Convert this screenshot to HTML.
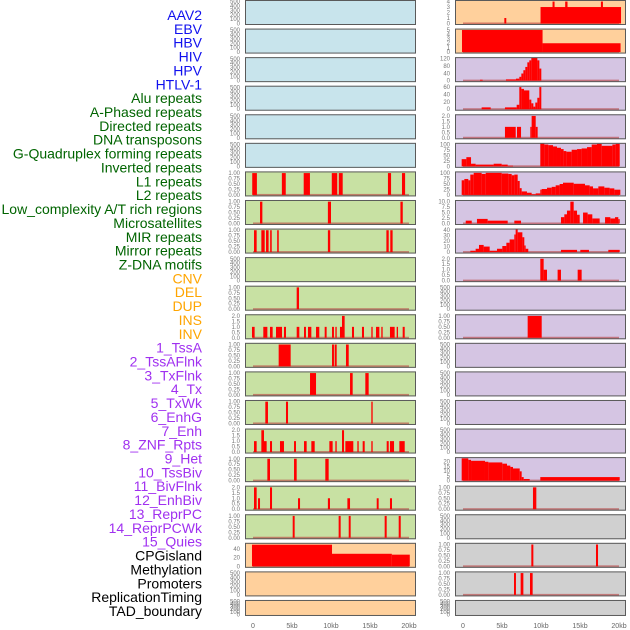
<!DOCTYPE html>
<html><head><meta charset="utf-8"><style>
html,body{margin:0;padding:0;background:#fff;}
svg{display:block;font-family:"Liberation Sans",sans-serif;}
</style></head><body>
<svg id="chart" width="630" height="630" viewBox="0 0 630 630" xmlns="http://www.w3.org/2000/svg"></svg>
<script>
const labels = ["AAV2","EBV","HBV","HIV","HPV","HTLV-1","Alu repeats","A-Phased repeats","Directed repeats","DNA transposons","G-Quadruplex forming repeats","Inverted repeats","L1 repeats","L2 repeats","Low_complexity A/T rich regions","Microsatellites","MIR repeats","Mirror repeats","Z-DNA motifs","CNV","DEL","DUP","INS","INV","1_TssA","2_TssAFlnk","3_TxFlnk","4_Tx","5_TxWk","6_EnhG","7_Enh","8_ZNF_Rpts","9_Het","10_TssBiv","11_BivFlnk","12_EnhBiv","13_ReprPC","14_ReprPCWk","15_Quies","CPGisland","Methylation","Promoters","ReplicationTiming","TAD_boundary"];
const groupOf = ["v","v","v","v","v","v","r","r","r","r","r","r","r","r","r","r","r","r","r","s","s","s","s","s","c","c","c","c","c","c","c","c","c","c","c","c","c","c","c","o","o","o","o","o"];
const labelColors = {v:"#1010ee",r:"#006400",s:"#ffa500",c:"#a030f0",o:"#000000"};
const bgColors = {v:"#c8e4ec",r:"#c8e1a3",s:"#ffd09c",c:"#d5c5e3",o:"#d0d0d0"};
const xTickValues = [0,5,10,15,20];
const xTickLabels = ["0","5kb","10kb","15kb","20kb"];

// segments: [startKb, endKb, value]
const segAlu = [[-0.1,0.5,1],[3.7,4.2,1],[6.5,7.3,1],[10.1,10.8,1],[11.0,11.5,1],[17.3,17.7,1],[19.1,19.5,1]];
const segAPhased = [[0.9,1.2,1],[9.6,10.0,1],[18.9,19.2,1]];
const segDirected = [[0.13,0.47,1],[1.07,1.5,1],[1.67,2.0,1],[2.2,2.4,1],[3.1,3.3,1],[9.6,9.9,1],[17.1,17.4,1],[17.6,17.9,1]];
const segGQuad = [[5.6,5.9,1]];
const segInverted = [[-0.13,0.21,1],[1.32,1.84,1],[2.18,2.52,1],[2.95,3.72,1],[3.97,4.23,1],[5.6,5.94,1],[6.54,6.79,1],[7.05,7.48,1],[8.08,8.5,1],[9.19,9.44,1],[10.13,10.38,1],[10.56,10.73,1],[11.15,11.41,1],[11.41,11.75,2],[12.69,12.95,1],[13.97,14.23,1],[15.17,15.34,1],[15.77,16.2,1],[16.45,16.62,1],[17.56,18.16,1],[18.42,18.59,1],[19.19,19.45,1]];
const segL1 = [[3.29,4.83,1],[10.13,10.38,1],[10.47,10.73,1],[11.92,12.27,1]];
const segL2 = [[7.31,8.08,1],[12.44,12.78,1],[14.4,14.83,1]];
const segLowComplex = [[1.58,1.92,1],[4.23,4.49,1],[15.17,15.34,1]];
const segMicrosat = [[0.13,0.47,1],[1.07,1.41,2],[1.41,1.75,1],[2.18,2.44,1],[3.46,3.97,1],[5.26,5.51,1],[6.54,6.88,1],[7.48,7.91,1],[9.79,10.21,1],[10.56,10.73,1],[11.41,11.67,2],[11.84,12.86,1],[13.38,13.55,1],[14.06,14.32,1],[15.17,15.34,1],[17.14,17.4,1],[17.56,18.08,1],[18.76,19.45,1]];
const segMIR = [[1.84,2.18,1],[5.26,5.6,1],[9.27,9.7,1]];
const segMirror = [[0.13,0.47,2],[0.64,0.9,1],[2.18,2.44,2],[5.77,6.03,1],[9.6,9.87,1],[12.1,12.44,1],[15.86,16.11,1],[17.56,17.82,1]];
const segZDNA = [[5.09,5.34,1],[10.98,11.24,1],[12.27,12.52,1],[16.88,17.14,1],[18.68,18.94,1]];
const segCNV = [[-0.13,10.13,50],[10.13,17.8,29],[17.8,20.1,27]];
const segINS = [[5.3,5.55,1],[9.94,20.26,3],[11.48,11.74,4],[13.1,13.4,4],[17.68,17.94,4]];
const segINV = [[-0.13,10.2,5],[10.2,20.2,2]];
const segTssA = [[2.18,2.52,5],[5.51,6.79,7],[6.79,7.22,11],[7.22,7.48,21],[7.48,7.74,39],[7.74,7.99,57],[7.99,8.25,75],[8.25,8.5,100],[8.5,8.76,111],[8.76,9.53,125],[9.53,9.79,111],[9.79,10.04,66]];
const segTssAFlnk = [[2.39,3.55,5],[5.38,6.88,5],[6.88,7.22,12],[7.22,7.48,60],[7.48,7.82,55],[7.82,8.5,51],[8.5,8.76,26],[8.76,9.02,16],[9.02,9.27,7],[9.27,9.53,18],[9.53,9.79,31],[9.79,10.04,60]];
const segTxFlnk = [[5.38,6.76,1],[6.92,7.44,1],[8.63,8.8,1],[8.8,9.32,2],[9.32,9.57,1]];
const segTx = [[-0.17,0.43,33],[0.43,1.03,42],[1.03,1.62,12],[1.62,3.93,8],[3.93,4.96,12],[4.96,5.73,8],[5.73,6.41,3],[9.91,10.43,106],[10.43,10.94,100],[10.94,11.54,97],[11.54,12.05,91],[12.05,12.56,85],[12.56,12.9,79],[12.9,13.25,70],[13.25,13.93,67],[13.93,14.62,76],[14.62,15.21,79],[15.21,15.9,82],[15.9,16.5,88],[16.5,17.18,100],[17.18,17.78,103],[17.78,19.15,94],[19.15,19.57,100],[19.57,20.09,103]];
const segTxWk = [[-0.17,0.17,67],[0.17,0.68,73],[0.68,0.94,67],[0.94,1.37,93],[1.37,2.39,101],[2.39,2.91,96],[2.91,4.96,101],[4.96,5.81,98],[5.81,6.24,96],[6.24,6.58,90],[6.58,7.01,93],[7.01,7.27,64],[7.27,7.52,31],[7.52,8.2,16],[8.2,8.8,10],[8.8,9.32,3],[9.32,9.91,7],[9.91,10.09,24],[10.09,10.77,27],[10.77,11.37,33],[11.37,11.88,37],[11.88,12.39,44],[12.39,12.82,50],[12.82,14.19,56],[14.19,15.64,51],[15.64,16.24,44],[16.24,16.67,39],[16.67,17.35,30],[17.35,18.12,39],[18.12,18.8,33],[18.8,19.4,30],[19.4,20.17,24]];
const segEnhG = [[0.35,1.12,1.3],[1.79,3.16,2.1],[3.16,5.73,1.3],[6.58,7.44,1.3],[12.56,12.99,2.9],[12.99,13.33,4.2],[13.33,13.76,5.9],[13.76,14.19,10],[14.19,14.62,5.9],[14.62,14.96,4],[15.39,15.98,5],[15.98,16.58,4.2],[16.58,17.52,2.3],[18.21,18.89,2.9],[18.89,19.49,2.3],[19.49,19.91,2.9],[19.91,20.09,2]];
const segEnh = [[0.94,1.62,2.4],[1.62,2.05,6],[2.05,2.65,13],[2.65,3.42,10],[3.42,4.36,2.4],[4.36,5.04,6],[5.04,5.56,11],[5.56,5.98,17],[5.98,6.58,23],[6.58,6.75,32],[6.75,7.01,42],[7.01,7.61,36],[7.61,7.86,27],[7.86,8.03,12],[8.03,8.37,6],[12.56,14.62,4],[15.04,16.15,4],[18.63,20.09,4]];
const segZNF = [[9.91,10.34,2],[10.34,10.77,1],[12.13,12.56,1],[14.7,15.21,1]];
const segTssBiv = [[8.29,10.09,1]];
const segQuies = [[-0.17,0.68,23.3],[0.68,1.03,21.7],[1.03,2.82,20.7],[2.82,3.25,19.7],[3.25,5.04,19],[5.04,5.64,17.7],[5.64,6.07,15.7],[6.07,6.41,14.3],[6.41,7.27,12.7],[7.27,7.52,9.7],[7.52,7.78,3.7],[7.78,8.55,1.7],[9.91,20.09,3.7]];
const segCPG = [[8.97,9.4,1]];
const segPromoters = [[8.76,9.02,1],[17.05,17.31,1]];
const segRepTiming = [[6.54,6.79,1],[7.39,7.74,1],[8.59,8.93,1]];

const tk500 = [0,100,200,300,400,500];
const tk1 = [0,0.25,0.5,0.75,1];
const tk2 = [0,0.5,1,1.5,2];
// per panel: [segments, ymax, tickValues, decimals]
const panelSpecs = [
 [[],515,tk500,0],[[],515,tk500,0],[[],515,tk500,0],[[],515,tk500,0],[[],515,tk500,0],[[],515,tk500,0],
 [segAlu,1.03,tk1,2],[segAPhased,1.03,tk1,2],[segDirected,1.03,tk1,2],[[],515,tk500,0],[segGQuad,1.03,tk1,2],
 [segInverted,2.06,tk2,1],[segL1,1.03,tk1,2],[segL2,1.03,tk1,2],[segLowComplex,1.03,tk1,2],[segMicrosat,2.06,tk2,1],
 [segMIR,1.03,tk1,2],[segMirror,2.06,tk2,1],[segZDNA,1.03,tk1,2],[segCNV,52,[0,20,40],0],[[],515,tk500,0],[[],515,tk500,0],
 [segINS,4.1,[0,1,2,3,4],0],[segINV,5.1,[0,1,2,3,4,5],0],[segTssA,123,[0,40,80,120],0],[segTssAFlnk,61,[0,20,40,60],0],
 [segTxFlnk,2.06,tk2,1],[segTx,103,[0,25,50,75,100],0],[segTxWk,103,[0,25,50,75,100],0],[segEnhG,10.3,[0,2.5,5,7.5,10],1],
 [segEnh,41,[0,10,20,30,40],0],[segZNF,2.06,tk2,1],[[],515,tk500,0],[segTssBiv,1.03,tk1,2],[[],515,tk500,0],[[],515,tk500,0],
 [[],515,tk500,0],[[],515,tk500,0],[segQuies,23.5,[0,5,10,15,20],0],[segCPG,1.03,tk1,2],[[],515,tk500,0],
 [segPromoters,1.03,tk1,2],[segRepTiming,1.03,tk1,2],[[],515,tk500,0]
];

const NS = "http://www.w3.org/2000/svg";
const svg = document.getElementById("chart");
function mk(tag, attrs, parent){const e=document.createElementNS(NS,tag);for(const k in attrs)e.setAttribute(k,attrs[k]);(parent||svg).appendChild(e);return e;}
const colX = [245,455], panelW = 171, pitch = 28.57;
function xScale(kb,col){return colX[col]+8+kb*7.8;}

// labels
labels.forEach((t,i)=>{
  const e = mk("text",{x:202,y:(15+i*13.86+5).toFixed(1),"text-anchor":"end","font-size":"14",fill:labelColors[groupOf[i]]});
  
  
  e.textContent = t;
});

panelSpecs.forEach((spec,i)=>{
  const col = i<22?0:1, row = i%22;
  const T = row*pitch, H = row===21?16:25;
  const x0 = colX[col];
  const [segs,ymax,ticks,dec] = spec;
  const yScale = v => T+H-1.5 - v/ymax*(H-2.5);
  const g = mk("g",{});
  
  
  const bg = mk("rect",{x:x0,y:T,width:panelW,height:H,fill:bgColors[groupOf[i]]},g);
  
  
  const clipId = "c"+i;
  const cp = mk("clipPath",{id:clipId},g);
  mk("rect",{x:x0,y:T,width:panelW,height:H},cp);
  const bars = mk("g",{"clip-path":"url(#"+clipId+")"},g);
  if(segs.length){
    const bl = mk("rect",{x:xScale(0,col),y:yScale(0)-1,width:xScale(20,col)-xScale(0,col),height:2,fill:"#b84040","fill-opacity":"0.6"},bars);
    
    
  }
  segs.forEach(s=>{
    const xa=xScale(s[0],col), xb=xScale(s[1],col), yt=yScale(s[2]);
    const r = mk("rect",{x:xa.toFixed(2),y:yt.toFixed(2),width:Math.max(1,xb-xa).toFixed(2),height:(yScale(0)-yt).toFixed(2),fill:"#ff0000"},bars);
    
    
  });
  const br = mk("rect",{x:x0+0.5,y:T+0.5,width:panelW-1,height:H-1,fill:"none",stroke:"#5a5a5a","stroke-width":"1"},g);
  
  
  ticks.forEach(v=>{
    const tl = mk("text",{x:x0-5,y:(yScale(v)+2).toFixed(1),"text-anchor":"end","font-size":"6",fill:"#777"},g);
    
    
    tl.textContent = v.toFixed(dec);
  });
});

[0,1].forEach(col=>{
  xTickValues.forEach((v,j)=>{
    const t = mk("text",{x:xScale(v,col).toFixed(1),y:628,"text-anchor":"middle","font-size":"7",fill:"#666"});
    
    
    t.textContent = xTickLabels[j];
  });
});
</script>
</body></html>
